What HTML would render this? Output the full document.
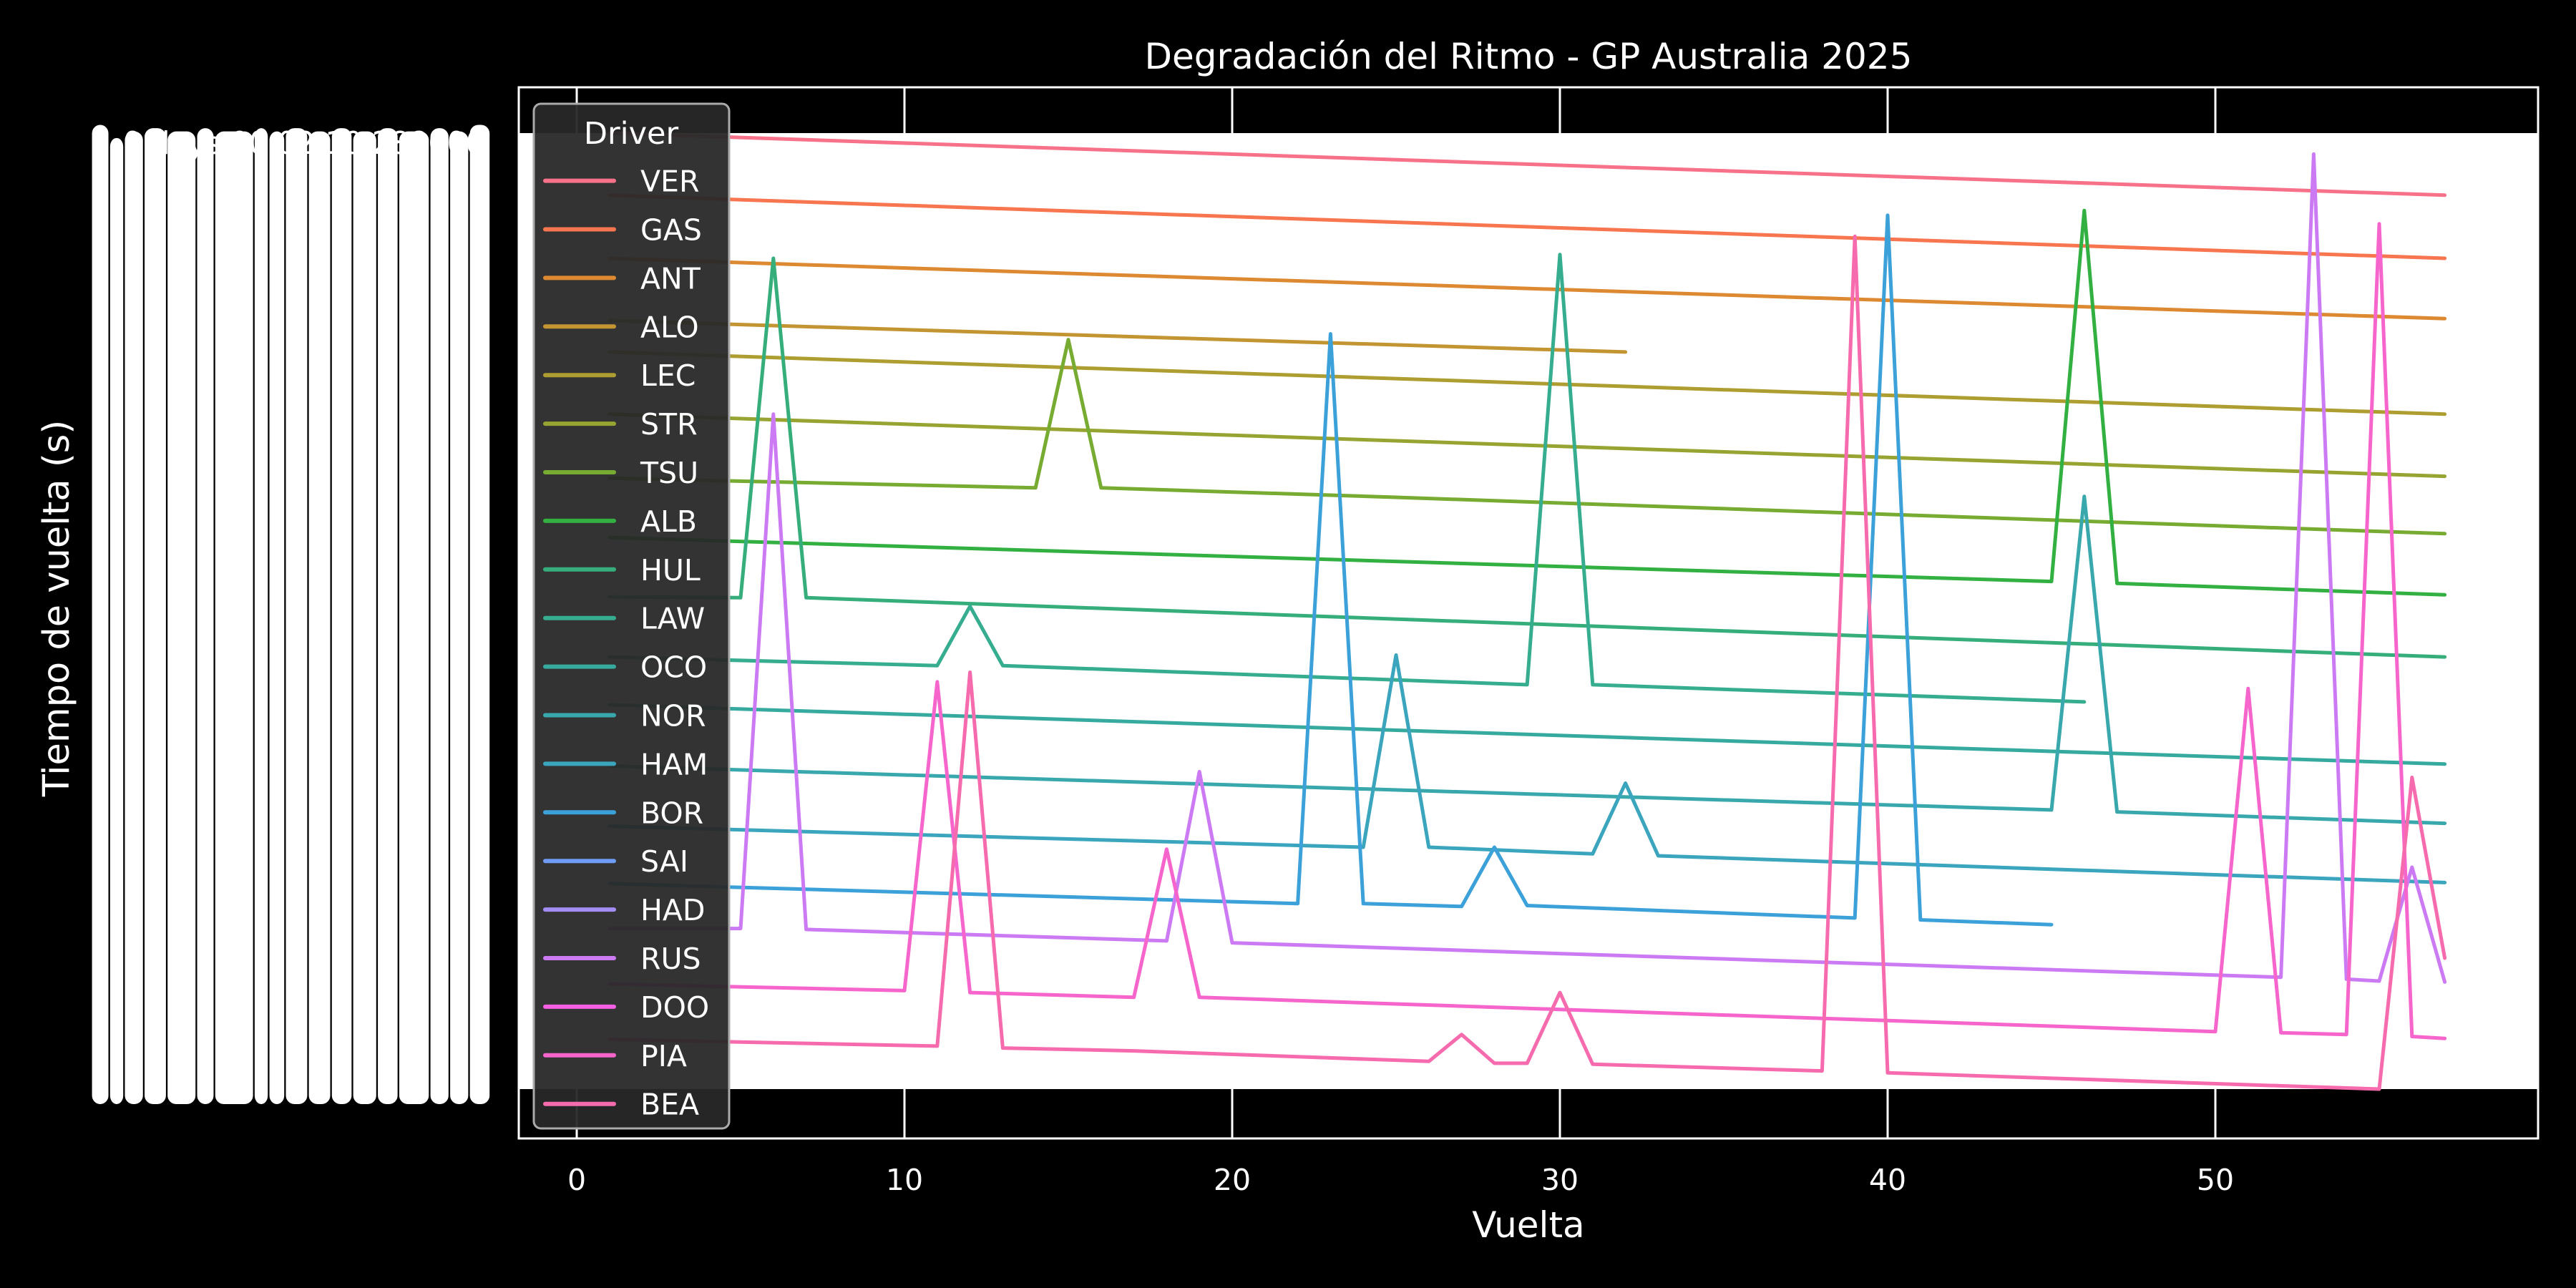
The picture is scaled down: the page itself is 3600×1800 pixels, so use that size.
<!DOCTYPE html>
<html>
<head>
<meta charset="utf-8">
<style>
html,body{margin:0;padding:0;background:#000;}
svg{display:block;}
text{font-family:"DejaVu Sans","Liberation Sans",sans-serif;fill:#fff;}
</style>
</head>
<body>
<svg id="chart" width="3600" height="1800" viewBox="0 0 3600 1800" xmlns="http://www.w3.org/2000/svg">
  <rect x="0" y="0" width="3600" height="1800" fill="#000"/>
  <text x="172" y="215" font-size="44" textLength="505" lengthAdjust="spacingAndGlyphs">0 days 00:02:10.288000</text>
  <g id="ytick-mess"></g>
  <text x="2136" y="96" text-anchor="middle" font-size="50">Degradación del Ritmo - GP Australia 2025</text>
  <text x="0" y="0" transform="translate(96,850) rotate(-90)" text-anchor="middle" font-size="51">Tiempo de vuelta (s)</text>
  <text x="2136" y="1729" text-anchor="middle" font-size="50">Vuelta</text>
  <rect x="725" y="122" width="2822" height="1469" fill="#000"/>
  <rect x="725" y="186" width="2822" height="1336" fill="#fff"/>
  <g id="grid"></g>
  <g id="series"></g>
  <g id="xticks"></g>
  <g id="legend"></g>
  <rect x="725" y="122" width="2822" height="1469" fill="none" stroke="#fff" stroke-width="3"/>
</svg>
<script>
const drivers = ["VER","GAS","ANT","ALO","LEC","STR","TSU","ALB","HUL","LAW","OCO","NOR","HAM","BOR","SAI","HAD","RUS","DOO","PIA","BEA"];
const colors = ["#f77189","#f7754f","#dc8932","#c39532","#ae9d31","#97a431","#77ab31","#33b042","#35ae7c","#36ad8f","#37aaa0","#38a8ad","#3aa5bd","#3ca1d9","#6e9bf4","#a38cf4","#cc7af4","#f45fe3","#f565cc","#f66bad"];
// lap numbers and relative lap-time values per driver (value scale 0..100)
const lapsVER = [1,57];  const valsVER = [100,93.5];
const lapsGAS = [1,57];  const valsGAS = [93.5,86.9];
const lapsANT = [1,57];  const valsANT = [86.9,80.6];
const lapsALO = [1,32];  const valsALO = [80.4,77.1];
const lapsLEC = [1,57];  const valsLEC = [77.1,70.6];
const lapsSTR = [1,57];  const valsSTR = [70.6,64.1];
const lapsTSU = [1,14,15,16,25,57]; const valsTSU = [63.9,62.9,78.4,62.9,61.9,58.1];
const lapsALB = [1,45,46,47,57]; const valsALB = [57.7,53.1,91.9,52.9,51.7];
const lapsHUL = [1,5,6,7,57]; const valsHUL = [51.5,51.4,86.9,51.4,45.2];
const lapsLAW = [1,11,12,13,29,30,31,46]; const valsLAW = [45.2,44.3,50.5,44.3,42.3,87.3,42.3,40.5];
const lapsOCO = [1,57]; const valsOCO = [40.2,34.0];
const lapsNOR = [1,45,46,47,57]; const valsNOR = [33.8,29.2,62.0,29.0,27.8];
const lapsHAM = [1,24,25,26,31,32,33,57]; const valsHAM = [27.5,25.3,45.4,25.3,24.6,32.0,24.4,21.6];
const lapsBOR = [1,22,23,24,27,28,29,39,40,41,45]; const valsBOR = [21.5,19.4,79.0,19.4,19.1,25.3,19.2,17.9,91.4,17.7,17.2];
const lapsSAI = []; const valsSAI = [];
const lapsHAD = []; const valsHAD = [];
const lapsRUS = [1,5,6,7,18,19,20,52,53,54,55,56,57]; const valsRUS = [16.8,16.8,70.6,16.7,15.5,33.2,15.3,11.7,97.8,11.5,11.3,23.2,11.2];
const lapsDOO = []; const valsDOO = [];
const lapsPIA = [1,10,11,12,17,18,19,50,51,52,54,55,56,57]; const valsPIA = [11.0,10.3,42.6,10.1,9.6,25.1,9.6,6.0,41.9,5.9,5.7,90.5,5.5,5.3];
const lapsBEA = [1,11,12,13,17,26,27,28,29,30,31,38,39,40,55,56,57]; const valsBEA = [5.2,4.5,43.6,4.3,4.0,2.9,5.7,2.7,2.7,10.1,2.6,1.9,89.2,1.7,0,32.6,13.7];
const xTicks = [0,10,20,30,40,50];

const seriesLaps = [lapsVER,lapsGAS,lapsANT,lapsALO,lapsLEC,lapsSTR,lapsTSU,lapsALB,lapsHUL,lapsLAW,lapsOCO,lapsNOR,lapsHAM,lapsBOR,lapsSAI,lapsHAD,lapsRUS,lapsDOO,lapsPIA,lapsBEA];
const seriesVals = [valsVER,valsGAS,valsANT,valsALO,valsLEC,valsSTR,valsTSU,valsALB,valsHUL,valsLAW,valsOCO,valsNOR,valsHAM,valsBOR,valsSAI,valsHAD,valsRUS,valsDOO,valsPIA,valsBEA];

const NS = "http://www.w3.org/2000/svg";
function xScale(l){ return 806 + l*45.8; }
function yScale(v){ return 1522 - v*13.36; }

// y tick label clutter (overlapping labels)
const mess = document.getElementById('ytick-mess');
const bars = [[56,66,76],[67,75,84],[76,87,80],[88,101,78],[102,119,80],[120,130,78],[131,154,80],[155,163,78],[164,173,80],[174,187,78],[188,201,80],[202,214,78],[215,229,80],[230,242,78],[243,261,80],[262,273,78],[274,285,80],[286,298,76]];
bars.forEach(b=>{
  const r = document.createElementNS(NS,'rect');
  r.setAttribute('x', b[0]*2.296); r.setAttribute('y', b[2]*2.296);
  r.setAttribute('width', (b[1]-b[0])*2.296); r.setAttribute('height', 1543 - b[2]*2.296);
  r.setAttribute('rx', 12); r.setAttribute('fill', '#fff');
  
  
  mess.appendChild(r);
});

// x grid + ticks
const grid = document.getElementById('grid'), xt = document.getElementById('xticks');
xTicks.forEach(t=>{
  const x = xScale(t);
  const g = document.createElementNS(NS,'line');
  g.setAttribute('x1', x); g.setAttribute('x2', x); g.setAttribute('y1', 122); g.setAttribute('y2', 1591);
  g.setAttribute('stroke', '#fff'); g.setAttribute('stroke-width', 3);
  
  
  grid.appendChild(g);
  const tx = document.createElementNS(NS,'text');
  tx.setAttribute('x', x); tx.setAttribute('y', 1663); tx.setAttribute('text-anchor','middle'); tx.setAttribute('font-size', 41);
  tx.textContent = t;
  
  
  xt.appendChild(tx);
});

// series
const sg = document.getElementById('series');
drivers.forEach((d,i)=>{
  const laps = seriesLaps[i], vals = seriesVals[i];
  if (!laps.length) return;
  const pts = laps.map((l,k)=> xScale(l).toFixed(1)+','+yScale(vals[k]).toFixed(1)).join(' ');
  const p = document.createElementNS(NS,'polyline');
  p.setAttribute('points', pts); p.setAttribute('fill','none');
  p.setAttribute('stroke', colors[i]); p.setAttribute('stroke-width', 5);
  p.setAttribute('stroke-linejoin','round'); p.setAttribute('stroke-linecap','round');
  
  
  sg.appendChild(p);
});

// legend
const lg = document.getElementById('legend');
const box = document.createElementNS(NS,'rect');
box.setAttribute('x', 746); box.setAttribute('y', 145); box.setAttribute('width', 273); box.setAttribute('height', 1432);
box.setAttribute('rx', 10); box.setAttribute('fill', 'rgba(40,40,40,0.95)'); box.setAttribute('stroke', '#aaa'); box.setAttribute('stroke-width', 3);


lg.appendChild(box);
const lt = document.createElementNS(NS,'text');
lt.setAttribute('x', 882); lt.setAttribute('y', 201); lt.setAttribute('text-anchor','middle'); lt.setAttribute('font-size', 43);
lt.textContent = 'Driver';


lg.appendChild(lt);
drivers.forEach((d,i)=>{
  const y = 252.6 + i*67.9;
  const ln = document.createElementNS(NS,'line');
  ln.setAttribute('x1', 762); ln.setAttribute('x2', 858); ln.setAttribute('y1', y); ln.setAttribute('y2', y);
  ln.setAttribute('stroke', colors[i]); ln.setAttribute('stroke-width', 6); ln.setAttribute('stroke-linecap','round');
  
  
  lg.appendChild(ln);
  const tx = document.createElementNS(NS,'text');
  tx.setAttribute('x', 895); tx.setAttribute('y', y + 15); tx.setAttribute('font-size', 41);
  tx.textContent = d;
  
  
  lg.appendChild(tx);
});
</script>
</body>
</html>
